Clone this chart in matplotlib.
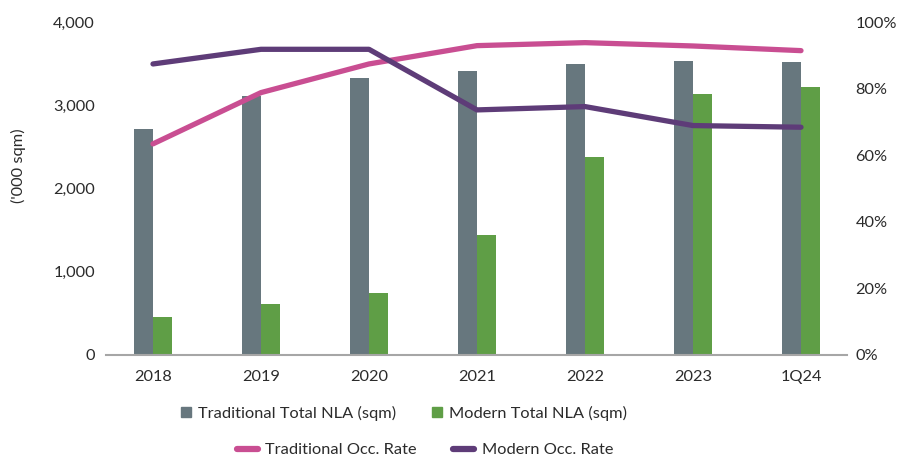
import matplotlib

matplotlib.use("Agg")
import matplotlib.pyplot as plt
from matplotlib.lines import Line2D
from matplotlib.patches import Patch
import numpy as np

plt.rcParams["font.family"] = ["Lato", "DejaVu Sans"]

categories = ["2018", "2019", "2020", "2021", "2022", "2023", "1Q24"]
trad_nla = [2715, 3110, 3330, 3410, 3495, 3535, 3520]
modern_nla = [455, 613, 745, 1440, 2380, 3135, 3220]
trad_occ = [63.4, 78.8, 87.4, 92.9, 93.8, 92.8, 91.4]
modern_occ = [87.4, 91.8, 91.8, 73.6, 74.6, 68.9, 68.4]

GREY = "#67777e"
GREEN = "#5f9e46"
PINK = "#c94e92"
PURPLE = "#5e3c78"
TEXT = "#2b2b2b"
FS = 11.8

fig = plt.figure(figsize=(8.98, 4.58), dpi=100)
fig.patch.set_facecolor("white")
ax = fig.add_axes([106 / 898, 1 - 355 / 458, (847 - 106) / 898, (355 - 22) / 458])
ax2 = ax.twinx()

x = np.arange(len(categories))
w = 0.176
ax.bar(x - w / 2, trad_nla, width=w, color=GREY, zorder=2)
ax.bar(x + w / 2, modern_nla, width=w, color=GREEN, zorder=2)

ax2.plot(x, trad_occ, color=PINK, lw=3.8, solid_capstyle="round", solid_joinstyle="round")
ax2.plot(x, modern_occ, color=PURPLE, lw=3.8, solid_capstyle="round", solid_joinstyle="round")

ax.set_xlim(-0.435, 6.426)
ax.set_ylim(0, 4000)
ax2.set_ylim(0, 100)
ax.set_yticks([0, 1000, 2000, 3000, 4000])
ax.set_yticklabels(["0", "1,000", "2,000", "3,000", "4,000"])
ax2.set_yticks([0, 20, 40, 60, 80, 100])
ax2.set_yticklabels([f"{v}%" for v in range(0, 101, 20)])
ax.set_xticks(x)
ax.set_xticklabels(categories)

for a in (ax, ax2):
    for s in ("top", "left", "right", "bottom"):
        a.spines[s].set_visible(False)
    a.tick_params(length=0, labelsize=FS, colors=TEXT)
ax.spines["bottom"].set_visible(True)
ax.spines["bottom"].set_color("#a6a6a6")
ax.spines["bottom"].set_linewidth(1.5)
ax.tick_params(axis="y", pad=8)
ax.tick_params(axis="x", pad=11)
ax2.tick_params(axis="y", pad=6)
ax.set_ylabel("('000 sqm)", fontsize=FS, color=TEXT)
ax.yaxis.set_label_coords(-0.108, 0.57)

bar_handles = [Patch(color=GREY), Patch(color=GREEN)]
fig.legend(bar_handles, ["Traditional Total NLA (sqm)", "Modern Total NLA (sqm)"],
           loc="center", bbox_to_anchor=(404 / 898, 1 - 413 / 458), ncol=2, frameon=False,
           fontsize=FS, handlelength=0.6, handleheight=0.6, handletextpad=0.45,
           columnspacing=2.2, labelcolor=TEXT)
line_handles = [Line2D([], [], color=PINK, lw=4.5, solid_capstyle="round"),
                Line2D([], [], color=PURPLE, lw=4.5, solid_capstyle="round")]
fig.legend(line_handles, ["Traditional Occ. Rate", "Modern Occ. Rate"],
           loc="center", bbox_to_anchor=(425 / 898, 1 - 450 / 458), ncol=2, frameon=False,
           fontsize=FS, handlelength=1.3, handletextpad=0.45,
           columnspacing=2.2, labelcolor=TEXT)

fig.savefig("out.png", dpi=100, facecolor="white")
plt.close()
